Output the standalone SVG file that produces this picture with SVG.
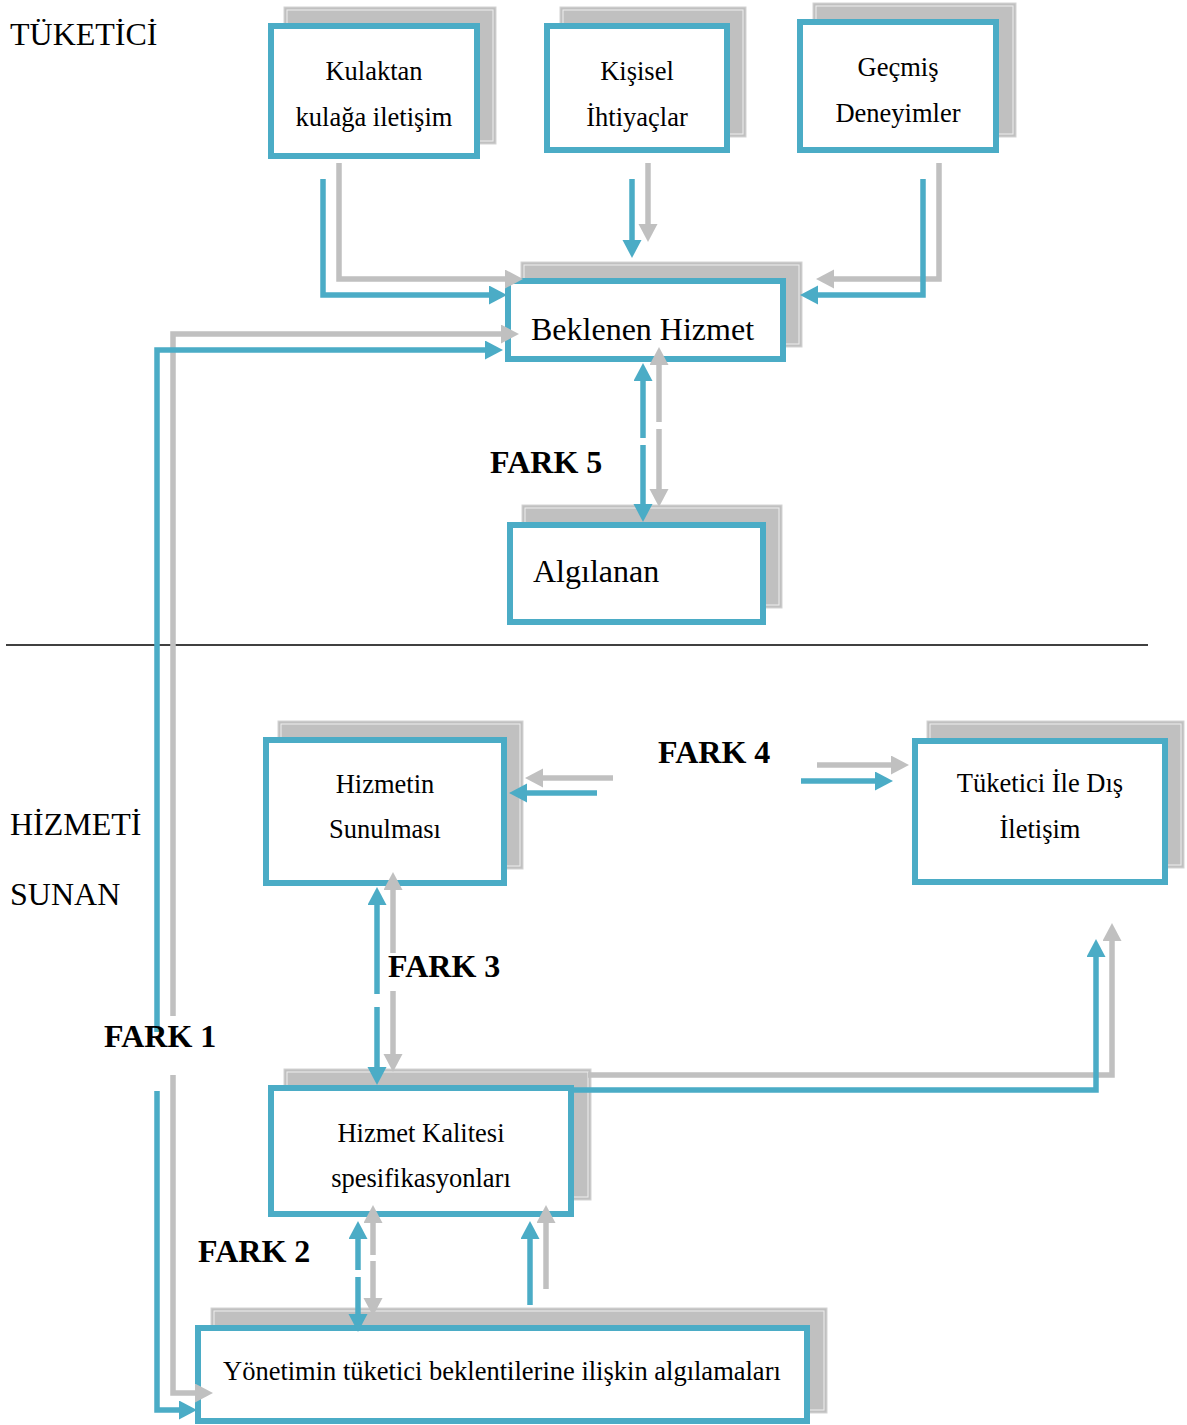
<svg xmlns="http://www.w3.org/2000/svg" width="1187" height="1425" viewBox="0 0 1187 1425">
<style>
.sh{fill:#C0C0C0;stroke:#D4D4D4;stroke-width:1}
.shi{fill:none;stroke:#EEEEEE;stroke-width:1}
.bx{fill:#FFFFFF;stroke:#4BACC6;stroke-width:6}
.t{font-family:"Liberation Serif","Times New Roman",serif;fill:#000}
.m{font-size:26.5px;text-anchor:middle}
.l{font-size:32px}
.f{font-family:"Liberation Serif","Times New Roman",serif;font-size:32px;font-weight:bold;fill:#000}
.cb{fill:none;stroke:#4BACC6;stroke-width:5.5;marker-end:url(#ab)}
.cg{fill:none;stroke:#C0C0C0;stroke-width:5.5;marker-end:url(#ag)}
</style>
<defs>
<marker id="ab" markerUnits="userSpaceOnUse" markerWidth="20" markerHeight="20" refX="1" refY="9.5" orient="auto"><path d="M0,0 L18,9.5 L0,19 z" fill="#4BACC6"/></marker>
<marker id="ag" markerUnits="userSpaceOnUse" markerWidth="20" markerHeight="20" refX="1" refY="9.5" orient="auto"><path d="M0,0 L18,9.5 L0,19 z" fill="#C0C0C0"/></marker>
</defs>
<rect width="1187" height="1425" fill="#FFFFFF"/>

<g id="side-labels">
<text class="t l" x="10" y="45">TÜKETİCİ</text>
<text class="t l" x="10" y="835">HİZMETİ</text>
<text class="t l" x="10" y="905">SUNAN</text>
</g>

<line id="divider" x1="6" y1="645" x2="1148" y2="645" stroke="#000" stroke-width="1.6"/>

<g id="node-kulaktan">
<rect class="sh" x="284" y="7" width="212" height="137"/><rect class="shi" x="287" y="10" width="206" height="131"/>
<rect class="bx" x="271" y="26" width="206" height="130"/>
<text class="t m" x="374" y="80">Kulaktan</text>
<text class="t m" x="374" y="126">kulağa iletişim</text>
</g>
<g id="node-kisisel">
<rect class="sh" x="560" y="7" width="186" height="130"/><rect class="shi" x="563" y="10" width="180" height="124"/>
<rect class="bx" x="547" y="26" width="180" height="124"/>
<text class="t m" x="637" y="80">Kişisel</text>
<text class="t m" x="637" y="126">İhtiyaçlar</text>
</g>
<g id="node-gecmis">
<rect class="sh" x="813" y="3" width="203" height="134"/><rect class="shi" x="816" y="6" width="197" height="128"/>
<rect class="bx" x="800" y="22" width="196" height="128"/>
<text class="t m" x="898" y="76">Geçmiş</text>
<text class="t m" x="898" y="122">Deneyimler</text>
</g>
<g id="node-beklenen">
<rect class="sh" x="521" y="262" width="281" height="85"/><rect class="shi" x="524" y="265" width="275" height="79"/>
<rect class="bx" x="508" y="281" width="275" height="78"/>
<text class="t l" x="531" y="340">Beklenen Hizmet</text>
</g>
<g id="node-algilanan">
<rect class="sh" x="522" y="505" width="260" height="103"/><rect class="shi" x="525" y="508" width="254" height="97"/>
<rect class="bx" x="510" y="525" width="253" height="97"/>
<text class="t l" x="533" y="582">Algılanan</text>
</g>
<g id="node-hizmetin">
<rect class="sh" x="278" y="721" width="245" height="148"/><rect class="shi" x="281" y="724" width="239" height="142"/>
<rect class="bx" x="266" y="740" width="238" height="143"/>
<text class="t m" x="385" y="793">Hizmetin</text>
<text class="t m" x="385" y="838">Sunulması</text>
</g>
<g id="node-tuketici">
<rect class="sh" x="927" y="721" width="257" height="147"/><rect class="shi" x="930" y="724" width="251" height="141"/>
<rect class="bx" x="915" y="741" width="250" height="141"/>
<text class="t m" x="1040" y="792">Tüketici İle Dış</text>
<text class="t m" x="1040" y="838">İletişim</text>
</g>
<g id="node-kalite">
<rect class="sh" x="284" y="1069" width="307" height="131"/><rect class="shi" x="287" y="1072" width="301" height="125"/>
<rect class="bx" x="271" y="1088" width="300" height="126"/>
<text class="t m" x="421" y="1142">Hizmet Kalitesi</text>
<text class="t m" x="421" y="1187">spesifikasyonları</text>
</g>
<g id="node-yonetim">
<rect class="sh" x="211" y="1308" width="616" height="105"/><rect class="shi" x="214" y="1311" width="610" height="99"/>
<rect class="bx" x="198" y="1328" width="609" height="93"/>
<text class="t" x="223" y="1380" style="font-size:26.5px">Yönetimin tüketici beklentilerine ilişkin algılamaları</text>
</g>

<g id="connectors">
<path class="cg" d="M339,163 V279 H506"/>
<path class="cb" d="M323,179 V295 H490"/>
<path class="cg" d="M648,163 V225"/>
<path class="cb" d="M632,179 V241"/>
<path class="cg" d="M939,163 V279 H833"/>
<path class="cb" d="M923,179 V295 H817"/>
<path class="cg" d="M173,1016 V334 H502"/>
<path class="cb" d="M157,1032 V350 H486"/>
<path class="cg" d="M173,1075 V1393 H196"/>
<path class="cb" d="M157,1091 V1410 H180"/>
<path class="cg" d="M659,422 V364"/>
<path class="cg" d="M659,429 V490"/>
<path class="cb" d="M643,438 V380"/>
<path class="cb" d="M643,445 V505"/>
<path class="cg" d="M613,778 H542"/>
<path class="cb" d="M597,793 H526"/>
<path class="cg" d="M817,765 H892"/>
<path class="cb" d="M801,781 H876"/>
<path class="cg" d="M393,953 V889"/>
<path class="cg" d="M393,991 V1055"/>
<path class="cb" d="M377,994 V904"/>
<path class="cb" d="M377,1007 V1068"/>
<path class="cg" d="M588,1075 H1112 V940"/>
<path class="cb" d="M574,1090 H1096 V956"/>
<path class="cg" d="M373,1255 V1222"/>
<path class="cg" d="M373,1261 V1299"/>
<path class="cb" d="M358,1270 V1238"/>
<path class="cb" d="M358,1277 V1315"/>
<path class="cg" d="M546,1289 V1222"/>
<path class="cb" d="M530,1305 V1238"/>
</g>

<g id="gap-labels">
<text class="f" x="490" y="473">FARK 5</text>
<text class="f" x="658" y="763">FARK 4</text>
<text class="f" x="388" y="977">FARK 3</text>
<text class="f" x="104" y="1047">FARK 1</text>
<text class="f" x="198" y="1262">FARK 2</text>
</g>
</svg>
